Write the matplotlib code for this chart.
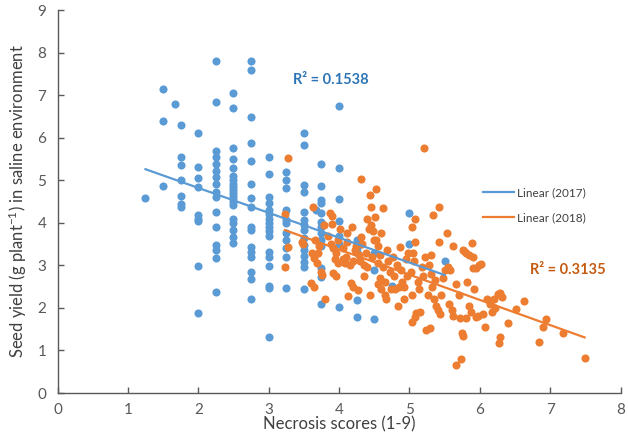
import numpy as np
import matplotlib
matplotlib.use("Agg")
import matplotlib.pyplot as plt

plt.rcParams['font.family'] = ['Lato', 'DejaVu Sans']
plt.rcParams['mathtext.fontset'] = 'custom'
plt.rcParams['mathtext.rm'] = 'Lato'
plt.rcParams['mathtext.it'] = 'Lato:italic'
plt.rcParams['mathtext.bf'] = 'Lato:bold'

# ---------------- data ----------------
# 2017: column of necrosis score -> seed yields
blue_cols = {
    1.25: [4.58],
    1.5: [7.15, 6.4, 4.87],
    1.67: [6.8],
    1.75: [6.3, 5.55, 5.35, 5.0, 4.64, 4.44, 4.36],
    2.0: [6.12, 5.3, 5.05, 4.85, 4.18, 4.1, 4.05, 2.98, 1.89],
    2.25: [7.8, 6.85, 5.68, 5.55, 5.38, 5.22, 5.08, 4.91, 4.73, 4.61, 4.26,
           3.89, 3.48, 3.36, 3.17, 2.37],
    2.5: [7.05, 6.7, 5.76, 5.5, 5.28, 5.1, 5.0, 4.92, 4.85, 4.78, 4.7, 4.62,
          4.55, 4.48, 4.42, 4.08, 4.0, 3.83, 3.67, 3.53],
    2.75: [7.8, 7.6, 6.48, 5.88, 5.45, 4.92, 4.58, 4.38, 3.91, 3.83, 3.44,
           3.32, 3.2, 2.85, 2.67, 2.22],
    3.0: [5.55, 5.15, 4.61, 4.46, 4.3, 4.2, 4.1, 4.0, 3.9, 3.8, 3.7, 3.32,
          3.2, 2.98, 2.51, 2.46, 1.32],
    3.25: [5.2, 5.0, 4.81, 4.3, 4.07, 3.99, 3.75, 3.6, 3.4, 3.2, 2.46],
    3.5: [6.12, 5.83, 4.89, 4.73, 4.26, 4.07, 3.95, 3.83, 3.64, 3.48, 3.36,
          3.22, 3.09, 2.95, 2.45],
    3.67: [4.3],
    3.75: [5.37, 4.86, 4.54, 4.46, 4.22, 4.03, 3.91, 3.75, 3.6, 3.45, 2.93,
           2.73, 2.08],
    4.0: [6.75, 5.28, 4.56, 4.05, 3.7, 3.5, 2.01],
    4.25: [3.6, 3.4, 3.32, 2.19, 1.78],
    4.5: [3.3, 2.9, 1.74],
    4.75: [2.51],
    5.0: [4.24, 3.49],
    5.5: [3.11],
}

# 2018
orange_x = [
    3.28, 3.23, 3.28, 3.23, 3.49, 3.47,
    3.63, 3.62, 3.65, 3.6, 3.65, 3.66, 3.7, 3.72, 3.76, 3.74, 3.8, 3.78, 3.68,
    3.87, 3.9, 3.9, 3.91, 3.95, 3.92, 3.96, 3.98, 3.85, 3.94, 3.99, 3.88,
    4.01, 4.11, 4.1, 4.08, 4.15, 4.17, 4.2, 4.13, 4.06, 4.2, 4.22, 4.12, 4.05, 4.18, 4.24,
    4.31, 4.44, 4.46, 4.31, 4.27, 4.44, 4.4, 4.45, 4.42, 4.48, 4.3, 4.35, 4.28, 4.38,
    4.33, 4.47, 4.4, 4.36, 4.49,
    4.52, 4.63, 4.51, 4.56, 4.55, 4.58, 4.6, 4.65, 4.67, 4.55, 4.62, 4.7, 4.68, 4.72,
    4.58, 4.66, 4.74, 4.6, 4.53,
    4.87, 4.8, 4.85, 4.9, 4.92, 4.78, 4.82, 4.95, 4.88, 4.98, 4.76, 4.93, 4.84, 4.97,
    5.03, 5.08, 5.08, 5.04, 5.03, 5.08, 5.1, 5.15, 5.21, 5.05, 5.06, 5.12, 5.2, 5.22,
    5.24, 5.18, 5.14, 5.02,
    5.29, 5.33, 5.42, 5.42, 5.3, 5.32, 5.35, 5.38, 5.4, 5.43, 5.28, 5.3, 5.45, 5.48,
    5.5, 5.27, 5.36,
    5.53, 5.55, 5.57, 5.56, 5.6, 5.62, 5.66, 5.74, 5.7, 5.72, 5.75, 5.66, 5.62,
    5.76, 5.77, 5.85, 5.9, 5.89, 5.8, 5.92, 5.91, 5.94, 5.99, 5.8, 5.76, 5.85, 5.88,
    5.95, 5.98, 5.82,
    6.02, 6.1, 6.15, 6.2, 6.22, 6.05, 6.29, 6.31, 6.26, 6.29, 6.28, 6.4, 6.08, 6.18,
    6.51, 6.63, 6.84, 6.9, 6.94, 7.18, 7.49,
]
orange_y = [
    5.53, 4.2, 3.42, 2.97, 3.49, 3.55,
    4.38, 3.3, 3.18, 2.58, 2.5, 3.6, 3.3, 3.45, 2.77, 2.85, 2.21, 3.95, 3.05,
    4.24, 4.15, 3.96, 2.81, 2.75, 3.4, 3.3, 3.6, 3.7, 3.15, 3.05, 3.5,
    3.85, 3.75, 3.2, 3.05, 3.0, 2.58, 2.5, 2.28, 3.4, 3.1, 3.35, 3.55, 3.15, 3.9, 3.45,
    5.02, 4.66, 4.36, 3.67, 2.42, 2.3, 4.1, 3.95, 3.85, 3.8, 3.1, 3.0, 3.25, 3.3,
    3.5, 3.2, 2.95, 2.75, 3.6,
    4.79, 4.34, 4.14, 3.46, 2.55, 2.7, 2.45, 2.3, 2.2, 3.05, 2.95, 3.1, 3.35, 2.85,
    3.25, 2.6, 2.45, 3.75, 3.6,
    3.44, 2.45, 2.5, 2.6, 2.5, 2.75, 3.0, 3.15, 2.9, 3.3, 3.2, 2.2, 2.05, 2.75,
    3.91, 4.09, 3.54, 2.3, 1.68, 1.78, 1.88, 1.9, 5.76, 3.3, 3.1, 2.6, 2.75, 3.2,
    1.48, 2.95, 2.45, 2.85,
    1.52, 4.18, 4.36, 3.54, 2.8, 2.5, 2.2, 2.05, 1.95, 1.85, 3.0, 3.25, 2.3, 2.7,
    2.9, 2.3, 2.65,
    3.75, 2.96, 2.9, 2.1, 1.95, 1.8, 0.66, 0.79, 2.3, 1.76, 1.41, 2.55, 3.45,
    3.36, 3.34, 3.24, 3.19, 3.52, 3.3, 2.44, 2.93, 2.93, 3.01, 1.76, 1.34, 2.05, 1.9,
    1.78, 1.82, 2.6,
    3.03, 2.2, 2.1, 2.2, 2.0, 1.85, 2.35, 2.26, 2.33, 1.32, 1.17, 1.65, 1.55, 1.9,
    1.97, 2.17, 1.21, 1.56, 1.73, 1.4, 0.82,
]

# linear trend lines: (slope, intercept)
trend_2017 = (-0.585, 5.99)
trend_2018 = (-0.592, 5.74)
r2_2017 = "0.1538"
r2_2018 = "0.3135"

x_ticks = list(range(0, 9))
y_ticks = list(range(0, 10))

# ---------------- drawing ----------------
blue = '#5B9BD5'
orange = '#ED7D31'

blue_x = [x for x, ys in blue_cols.items() for _ in ys]
blue_y = [y for ys in blue_cols.values() for y in ys]

fig = plt.figure(figsize=(6.28, 4.47), dpi=100)
ax = fig.add_axes([0.0916, 0.1208, 0.8965, 0.8568])

ax.scatter(blue_x, blue_y, s=34, color=blue, linewidths=0, zorder=2)
ax.scatter(orange_x, orange_y, s=34, color=orange, linewidths=0, zorder=3)

bx = np.array([min(blue_x), max(blue_x)])
ox = np.array([min(orange_x), max(orange_x)])
ax.plot(bx, trend_2017[0] * bx + trend_2017[1], color=blue, lw=1.6, zorder=4,
        label='Linear (2017)')
ax.plot(ox, trend_2018[0] * ox + trend_2018[1], color=orange, lw=1.6, zorder=4,
        label='Linear (2018)')

ax.text(3.35, 7.36, 'R² = ' + r2_2017, color='#2E75B6', fontsize=10.5,
        fontweight='bold', va='center', ha='left')
ax.text(6.71, 2.89, 'R² = ' + r2_2018, color='#C55A11', fontsize=10.5,
        fontweight='bold', va='center', ha='left')

leg = ax.legend(loc='upper left', bbox_to_anchor=(0.737, 0.565), frameon=False,
                fontsize=8.5, handlelength=2.6, handletextpad=0.3,
                labelspacing=1.2)
for t in leg.get_texts():
    t.set_color('#404040')

ax.set_xlim(0, 8)
ax.set_ylim(0, 9)
ax.set_xticks(x_ticks)
ax.set_yticks(y_ticks)
for s in ['top', 'right']:
    ax.spines[s].set_visible(False)
for s in ['left', 'bottom']:
    ax.spines[s].set_color('#595959')
    ax.spines[s].set_linewidth(1.0)
ax.tick_params(direction='in', length=4, width=1.0, color='#595959',
               labelcolor='#595959', labelsize=11)
ax.tick_params(axis='x', pad=7)
ax.tick_params(axis='y', pad=8)

ax.set_xlabel('Necrosis scores (1-9)', fontsize=12, color='#404040', labelpad=0)
ax.set_ylabel('Seed yield (g plant$^{-1}$) in saline environment', fontsize=12,
              color='#404040', labelpad=6)

fig.savefig('out.png', dpi=100)
